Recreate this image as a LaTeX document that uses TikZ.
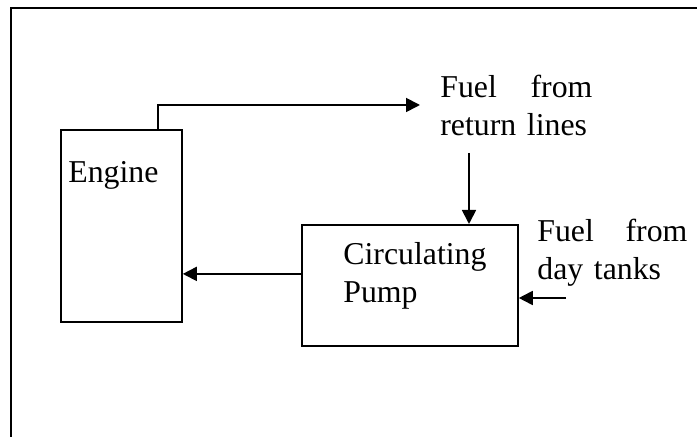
\documentclass[tikz,border=0pt]{standalone}
\usepackage{fontspec}
\setmainfont{Liberation Serif}
\usetikzlibrary{arrows.meta,positioning,calc}

\begin{document}
\begin{tikzpicture}[x=0.5pt,y=-0.5pt,
  font=\fontsize{15.9}{19}\selectfont,
  blk/.style={draw,line width=0.9pt,anchor=north west,inner sep=0pt,minimum width=#1},
  flow/.style={-{Triangle[length=7pt,width=7pt]},line width=0.9pt},
  txt/.style={anchor=north west,inner sep=0pt,align=left,text width=#1}]
\useasboundingbox (0,0) rectangle (697,437);
% outer frame
\draw[line width=0.9pt] (11,437) -- (11,8) -- (697,8);
\node[blk=60.5pt,minimum height=96pt] (engine) at (60,129) {};
\node[anchor=base west,inner sep=0pt] (enginetxt) at (68,183) {Engine};
\node[blk=108pt,minimum height=60.5pt] (pump) at (301,224) {};
\node[txt=80pt] (pumptxt) at (343,242.5) {Circulating\\Pump};
\node[txt=76pt] (retfuel) at (440,74.5) {Fuel\hfill from\\return lines};
\node[txt=75pt] (dayfuel) at (537,218.5) {Fuel\hfill from\\day tanks};
\coordinate (rettip) at (420,105);
\coordinate (retstart) at (469,153);
\coordinate (daystart) at (566,298);
\coordinate (pumpout) at ($(pump.west)+(0,-11.5)$);
\draw[flow] ($(engine.north east)+(-25,0)$) |- (rettip);
\draw[flow] (retstart) -- (retstart |- pump.north);
\draw[flow] (pumpout) -- (pumpout -| engine.east);
\draw[flow] (daystart) -- (daystart -| pump.east);
\end{tikzpicture}
\end{document}
